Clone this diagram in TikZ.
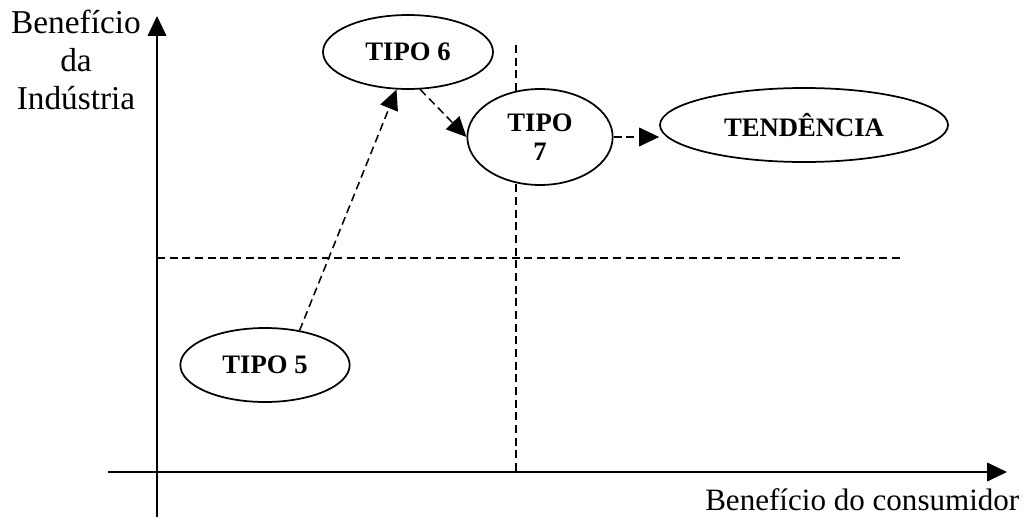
\documentclass[tikz,border=0pt]{standalone}
\usepackage{fontspec}
\setmainfont{Liberation Serif}
\usepackage{tikz}
\usetikzlibrary{arrows.meta,shapes.geometric}

\tikzset{
  tipo/.style={ellipse, draw, line width=1.3pt, inner sep=0pt, align=center,
    font=\fontsize{20}{22}\selectfont\bfseries},
  tip/.style={-{Triangle[length=15pt,width=14pt]}},
  dline/.style={dash pattern=on 6pt off 3.5pt, line width=1.15pt},
  axis/.style={tip, line width=1.4pt}
}

\begin{document}
\begin{tikzpicture}[x=0.75pt, y=-0.75pt]
  \useasboundingbox (0,0) rectangle (1030,517);
  % axes
  \coordinate (o) at (157,517);
  \coordinate (ytop) at (157,16);
  \coordinate (xl) at (108,472);
  \coordinate (xr) at (1007,472);
  \draw[axis] (o) -- (ytop);
  \draw[axis] (xl) -- (xr);
  % quadrant lines
  \coordinate (vtop) at (516,45);
  \coordinate (vbot) at (516,472);
  \coordinate (hl) at (157,258);
  \coordinate (hr) at (903,258);
  \draw[dline] (vtop) -- (vbot);
  \draw[dline] (hl) -- (hr);
  % axis labels
  \node[align=center, font=\fontsize{25}{28.5}\selectfont] (ylab) at (76,60) {Benefício\\da\\Indústria};
  \node[anchor=east, font=\fontsize{23.3}{26}\selectfont] (xlab) at (1024,500) {Benefício do consumidor};
  % types
  \node[tipo, fill=white, minimum width=127.5pt, minimum height=55.5pt] (t6) at (408,52) {TIPO 6};
  \node[tipo, fill=white, minimum width=109pt, minimum height=72pt] (t7) at (540,137) {TIPO\\7};
  \node[tipo, minimum width=216pt, minimum height=55.5pt] (tend) at (804,125) {TENDÊNCIA};
  \node[tipo, minimum width=127pt, minimum height=55.5pt] (t5) at (265,365) {TIPO 5};
  \path[dline, tip]
  (t5.45) edge (t6.253)
  (t6.288) edge (t7.west)
  (t7.east) edge (t7.east -| tend.west)
  ;
\end{tikzpicture}
\end{document}
